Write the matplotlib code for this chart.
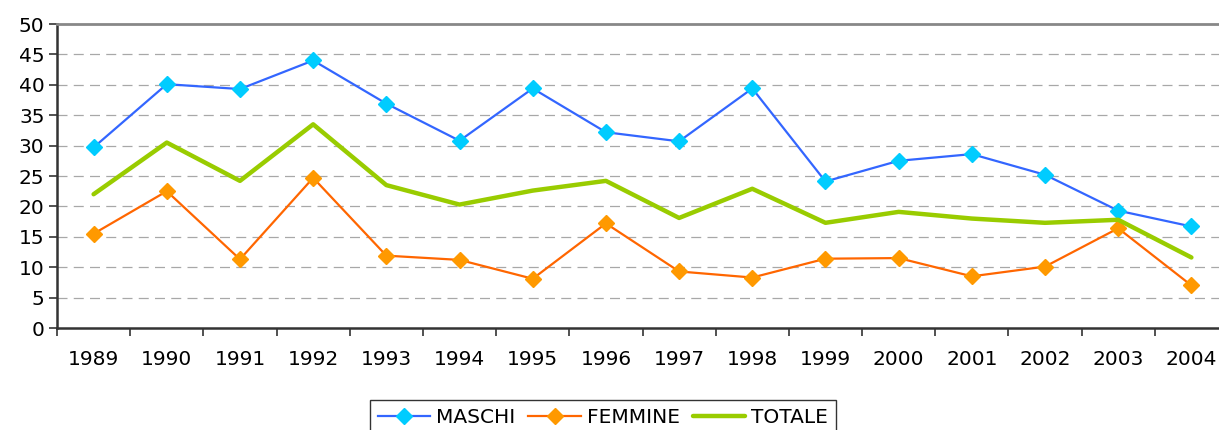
import matplotlib.pyplot as plt

plt.rcParams.update({'font.family': 'DejaVu Sans'})
plt.rcParams.update({'font.size': 14.5})

anni = ['1989', '1990', '1991', '1992', '1993', '1994', '1995', '1996',
        '1997', '1998', '1999', '2000', '2001', '2002', '2003', '2004']
maschi = [29.7, 40.1, 39.3, 44.0, 36.9, 30.8, 39.4, 32.2,
          30.7, 39.4, 24.1, 27.5, 28.6, 25.2, 19.3, 16.7]
femmine = [15.5, 22.5, 11.3, 24.7, 11.9, 11.2, 8.1, 17.2,
           9.3, 8.3, 11.4, 11.5, 8.5, 10.1, 16.4, 7.0]
totale = [22.0, 30.5, 24.2, 33.5, 23.5, 20.3, 22.6, 24.2,
          18.1, 22.9, 17.3, 19.1, 18.0, 17.3, 17.8, 11.6]

fig = plt.figure(figsize=(12.19, 4.30), dpi=100)
ax = fig.add_axes([57/1219, 1 - 328/430, 1171/1219, 304/430])

x = range(len(anni))
ax.plot(x, maschi, color='#3366FF', lw=1.6, marker='D', ms=8.5,
        mfc='#00CCFF', mec='#00CCFF', label='MASCHI', zorder=3)
ax.plot(x, femmine, color='#FF6600', lw=1.6, marker='D', ms=8.5,
        mfc='#FF9900', mec='#FF9900', label='FEMMINE', zorder=3)
ax.plot(x, totale, color='#99CC00', lw=3.2, solid_capstyle='round',
        label='TOTALE', zorder=3)

ax.set_xlim(-0.5, len(anni) - 0.5)
ax.set_ylim(0, 50)
ax.set_yticks(range(0, 51, 5))
ax.set_xticks(list(x))
ax.set_xticklabels(anni)
ax.set_xticks([i - 0.5 for i in range(len(anni) + 1)], minor=True)
ax.tick_params(axis='x', which='major', length=0, pad=16)
ax.tick_params(axis='x', which='minor', length=6, width=1.2, color='#333333')
ax.tick_params(axis='y', length=6, width=1.2, color='#333333', pad=3)

for yv in range(5, 50, 5):
    ax.axhline(yv, color='#A8A8A8', lw=0.9, ls=(0, (8, 5)), zorder=1)

ax.spines['top'].set_color('#888888')
ax.spines['top'].set_linewidth(2)
ax.spines['left'].set_color('#333333')
ax.spines['left'].set_linewidth(1.8)
ax.spines['bottom'].set_color('#333333')
ax.spines['bottom'].set_linewidth(1.8)
ax.spines['right'].set_visible(False)

leg = fig.legend(loc='upper center', bbox_to_anchor=(603/1219, 1 - 400/430),
                 ncol=3, frameon=True, fancybox=False, edgecolor='black',
                 handlelength=2.6, handletextpad=0.3, columnspacing=0.65,
                 borderpad=0.4, borderaxespad=0)
leg.get_frame().set_linewidth(1.0)

fig.savefig('out.png', dpi=100)
